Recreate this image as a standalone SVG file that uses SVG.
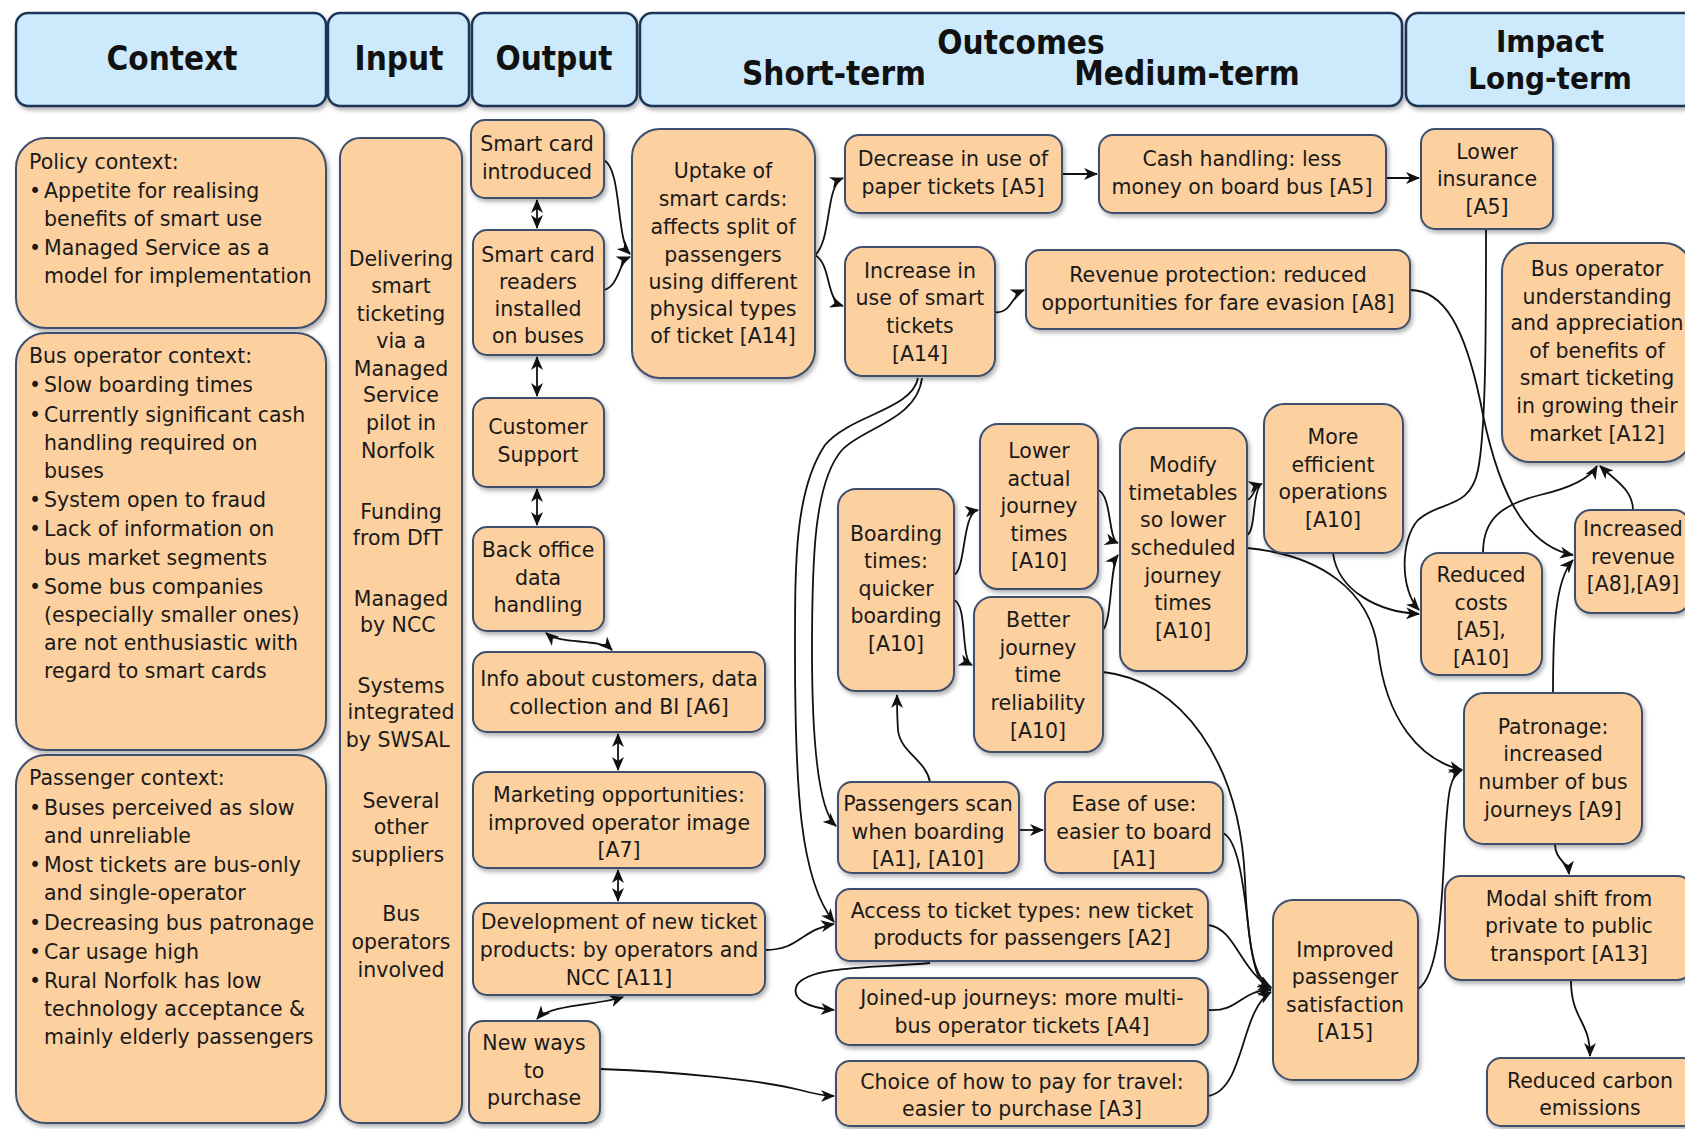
<svg xmlns="http://www.w3.org/2000/svg" width="1685" height="1129" viewBox="0 0 1685 1129">
<style>
.hdr{fill:#cdeafc;stroke:#1d3557;stroke-width:2.5}
.box{fill:#fdd09f;stroke:#3e4f6d;stroke-width:2}
.ht{font-family:"DejaVu Sans Condensed","DejaVu Sans",sans-serif;font-stretch:condensed;font-weight:bold;font-size:33px;fill:#111;text-anchor:middle}
.hs{font-size:31px}
.t{font-family:"DejaVu Sans",Verdana,sans-serif;font-size:20.5px;fill:#1a1a1a;text-anchor:middle}
.l{font-family:"DejaVu Sans",Verdana,sans-serif;font-size:20.5px;fill:#1a1a1a}
.c{fill:none;stroke:#111;stroke-width:1.8}
</style>
<defs>
<filter id="sh" x="-10%" y="-10%" width="130%" height="130%">
<feDropShadow dx="2" dy="3" stdDeviation="2" flood-color="#000" flood-opacity="0.3"/>
</filter>
<marker id="ar" viewBox="0 0 14 12" refX="13" refY="6" markerWidth="14" markerHeight="12" markerUnits="userSpaceOnUse" orient="auto-start-reverse">
<path d="M0,0 L14,6 L0,12 L4,6 z" fill="#111"/>
</marker>
</defs>

<g id="headers" filter="url(#sh)">
<rect class="hdr" x="16" y="13" width="310" height="93" rx="12"/>
<rect class="hdr" x="328" y="13" width="141" height="93" rx="12"/>
<rect class="hdr" x="472" y="13" width="165" height="93" rx="12"/>
<rect class="hdr" x="640" y="13" width="762" height="93" rx="12"/>
<rect class="hdr" x="1406" y="13" width="290" height="93" rx="12"/>
</g>
<g id="header-text">
<text class="ht" x="172" y="70">Context</text>
<text class="ht" x="399" y="70">Input</text>
<text class="ht" x="554" y="70">Output</text>
<text class="ht" x="1021" y="54">Outcomes</text>
<text class="ht" x="834" y="85">Short-term</text>
<text class="ht" x="1187" y="85">Medium-term</text>
<text class="ht hs" x="1550" y="52">Impact</text>
<text class="ht hs" x="1550" y="89">Long-term</text>
</g>

<g id="connectors">
<path class="c" marker-start="url(#ar)" marker-end="url(#ar)" d="M537 200 L537 228"/>
<path class="c" marker-start="url(#ar)" marker-end="url(#ar)" d="M537 357 L537 396"/>
<path class="c" marker-start="url(#ar)" marker-end="url(#ar)" d="M537 489 L537 525"/>
<path class="c" marker-start="url(#ar)" marker-end="url(#ar)" d="M546 633 C560 645 600 638 612 650"/>
<path class="c" marker-start="url(#ar)" marker-end="url(#ar)" d="M618 734 L618 770"/>
<path class="c" marker-start="url(#ar)" marker-end="url(#ar)" d="M618 870 L618 901"/>
<path class="c" marker-start="url(#ar)" marker-end="url(#ar)" d="M623 997 C600 1005 550 1004 537 1019"/>
<path class="c" marker-end="url(#ar)" d="M604 160 C622 170 616 240 630 254"/>
<path class="c" marker-end="url(#ar)" d="M604 290 C620 285 618 262 630 257"/>
<path class="c" marker-end="url(#ar)" d="M815 255 C832 240 825 185 843 178"/>
<path class="c" marker-end="url(#ar)" d="M815 255 C832 265 825 300 843 306"/>
<path class="c" marker-end="url(#ar)" d="M1062 174 L1097 174"/>
<path class="c" marker-end="url(#ar)" d="M1386 178 L1419 178"/>
<path class="c" marker-end="url(#ar)" d="M995 312 C1010 315 1012 295 1024 290"/>
<path class="c" marker-end="url(#ar)" d="M922 378 C917 420 862 428 842 450 C814 482 812 560 812 650 C812 740 818 810 836 826"/>
<path class="c" marker-end="url(#ar)" d="M918 378 C912 410 850 415 825 445 C795 490 795 560 795 650 C795 790 800 880 834 922"/>
<path class="c" marker-end="url(#ar)" d="M765 950 C800 950 800 930 834 924"/>
<path class="c" marker-end="url(#ar)" d="M930 963 C880 968 810 965 797 985 C790 1000 810 1008 834 1010"/>
<path class="c" marker-end="url(#ar)" d="M930 782 C926 760 900 752 898 730 C897 715 897 705 897 695"/>
<path class="c" marker-end="url(#ar)" d="M1019 830 L1043 830"/>
<path class="c" marker-end="url(#ar)" d="M954 575 C966 570 962 512 978 510"/>
<path class="c" marker-end="url(#ar)" d="M954 600 C968 605 960 660 972 665"/>
<path class="c" marker-end="url(#ar)" d="M1098 490 C1112 495 1108 540 1118 543"/>
<path class="c" marker-end="url(#ar)" d="M1103 630 C1112 620 1110 565 1118 555"/>
<path class="c" marker-end="url(#ar)" d="M1247 500 C1254 498 1254 486 1262 484"/>
<path class="c" d="M1247 535 C1256 530 1252 495 1260 486"/>
<path class="c" marker-end="url(#ar)" d="M1247 548 C1320 555 1370 590 1378 650 C1386 720 1420 760 1462 770"/>
<path class="c" marker-end="url(#ar)" d="M1333 553 C1338 592 1380 612 1419 614"/>
<path class="c" marker-end="url(#ar)" d="M1486 229 C1486 330 1486 430 1478 470 C1470 510 1440 500 1418 520 C1400 540 1400 590 1419 610"/>
<path class="c" marker-end="url(#ar)" d="M1410 290 C1445 290 1465 330 1480 400 C1495 480 1520 545 1573 555"/>
<path class="c" marker-end="url(#ar)" d="M1483 553 C1483 520 1500 505 1540 495 C1570 488 1590 478 1597 466"/>
<path class="c" marker-end="url(#ar)" d="M1633 510 C1633 490 1615 480 1600 466"/>
<path class="c" marker-end="url(#ar)" d="M1553 693 C1553 630 1555 580 1573 560"/>
<path class="c" marker-end="url(#ar)" d="M1418 989 C1440 975 1442 900 1445 840 C1448 790 1450 775 1462 770"/>
<path class="c" marker-end="url(#ar)" d="M1555 844 C1555 860 1568 862 1569 874"/>
<path class="c" marker-end="url(#ar)" d="M1571 980 C1571 1020 1590 1020 1590 1056"/>
<path class="c" marker-end="url(#ar)" d="M1103 672 C1180 680 1240 760 1245 880 C1248 950 1255 980 1271 987"/>
<path class="c" marker-end="url(#ar)" d="M1223 833 C1240 840 1245 900 1250 940 C1255 975 1260 985 1271 988"/>
<path class="c" marker-end="url(#ar)" d="M1208 925 C1235 928 1240 970 1271 988"/>
<path class="c" marker-end="url(#ar)" d="M1208 1010 C1240 1012 1240 990 1271 990"/>
<path class="c" marker-end="url(#ar)" d="M1208 1096 C1245 1090 1240 1010 1271 992"/>
<path class="c" marker-end="url(#ar)" d="M600 1069 C680 1072 760 1080 800 1090 C815 1094 825 1096 834 1096"/>
</g>

<g id="policy"><rect class="box" filter="url(#sh)" x="16" y="138" width="310" height="190" rx="30"/>
<text class="l"><tspan x="29" y="169">Policy context:</tspan>
<tspan x="29" y="198">•</tspan><tspan x="44" y="198">Appetite for realising</tspan>
<tspan x="44" y="226">benefits of smart use</tspan>
<tspan x="29" y="255">•</tspan><tspan x="44" y="255">Managed Service as a</tspan>
<tspan x="44" y="283">model for implementation</tspan></text></g>

<g id="busop"><rect class="box" filter="url(#sh)" x="16" y="333" width="310" height="417" rx="30"/>
<text class="l"><tspan x="29" y="363">Bus operator context:</tspan>
<tspan x="29" y="392">•</tspan><tspan x="44" y="392">Slow boarding times</tspan>
<tspan x="29" y="422">•</tspan><tspan x="44" y="422">Currently significant cash</tspan>
<tspan x="44" y="450">handling required on</tspan>
<tspan x="44" y="478">buses</tspan>
<tspan x="29" y="507">•</tspan><tspan x="44" y="507">System open to fraud</tspan>
<tspan x="29" y="536">•</tspan><tspan x="44" y="536">Lack of information on</tspan>
<tspan x="44" y="565">bus market segments</tspan>
<tspan x="29" y="594">•</tspan><tspan x="44" y="594">Some bus companies</tspan>
<tspan x="44" y="622">(especially smaller ones)</tspan>
<tspan x="44" y="650">are not enthusiastic with</tspan>
<tspan x="44" y="678">regard to smart cards</tspan></text></g>

<g id="passenger"><rect class="box" filter="url(#sh)" x="16" y="755" width="310" height="368" rx="30"/>
<text class="l"><tspan x="29" y="785">Passenger context:</tspan>
<tspan x="29" y="815">•</tspan><tspan x="44" y="815">Buses perceived as slow</tspan>
<tspan x="44" y="843">and unreliable</tspan>
<tspan x="29" y="872">•</tspan><tspan x="44" y="872">Most tickets are bus-only</tspan>
<tspan x="44" y="900">and single-operator</tspan>
<tspan x="29" y="930">•</tspan><tspan x="44" y="930">Decreasing bus patronage</tspan>
<tspan x="29" y="959">•</tspan><tspan x="44" y="959">Car usage high</tspan>
<tspan x="29" y="988">•</tspan><tspan x="44" y="988">Rural Norfolk has low</tspan>
<tspan x="44" y="1016">technology acceptance &amp;</tspan>
<tspan x="44" y="1044">mainly elderly passengers</tspan></text></g>

<g id="input"><rect class="box" filter="url(#sh)" x="340" y="138" width="122" height="985" rx="20"/>
<text class="t"><tspan x="401" y="266">Delivering</tspan><tspan x="401" y="293">smart</tspan><tspan x="401" y="321">ticketing</tspan><tspan x="401" y="348">via a</tspan><tspan x="401" y="376">Managed</tspan><tspan x="401" y="402">Service</tspan><tspan x="401" y="430">pilot in</tspan><tspan x="401" y="458">Norfolk</tspan>
<tspan x="401" y="519">Funding</tspan><tspan x="401" y="545">from DfT</tspan>
<tspan x="401" y="606">Managed</tspan><tspan x="401" y="632">by NCC</tspan>
<tspan x="401" y="693">Systems</tspan><tspan x="401" y="719">integrated</tspan><tspan x="401" y="747">by SWSAL</tspan>
<tspan x="401" y="808">Several</tspan><tspan x="401" y="834">other</tspan><tspan x="401" y="862">suppliers</tspan>
<tspan x="401" y="921">Bus</tspan><tspan x="401" y="949">operators</tspan><tspan x="401" y="977">involved</tspan></text></g>

<g id="sc-intro"><rect class="box" filter="url(#sh)" x="471" y="120" width="133" height="78" rx="14"/>
<text class="t"><tspan x="537" y="151">Smart card</tspan><tspan x="537" y="179">introduced</tspan></text></g>
<g id="sc-readers"><rect class="box" filter="url(#sh)" x="473" y="230" width="131" height="125" rx="14"/>
<text class="t"><tspan x="538" y="262">Smart card</tspan><tspan x="538" y="289">readers</tspan><tspan x="538" y="316">installed</tspan><tspan x="538" y="343">on buses</tspan></text></g>
<g id="customer-support"><rect class="box" filter="url(#sh)" x="473" y="398" width="131" height="89" rx="14"/>
<text class="t"><tspan x="538" y="434">Customer</tspan><tspan x="538" y="462">Support</tspan></text></g>
<g id="back-office"><rect class="box" filter="url(#sh)" x="473" y="527" width="131" height="104" rx="14"/>
<text class="t"><tspan x="538" y="557">Back office</tspan><tspan x="538" y="585">data</tspan><tspan x="538" y="612">handling</tspan></text></g>
<g id="info"><rect class="box" filter="url(#sh)" x="473" y="652" width="292" height="80" rx="14"/>
<text class="t"><tspan x="619" y="686">Info about customers, data</tspan><tspan x="619" y="714">collection and BI [A6]</tspan></text></g>
<g id="marketing"><rect class="box" filter="url(#sh)" x="473" y="772" width="292" height="96" rx="14"/>
<text class="t"><tspan x="619" y="802">Marketing opportunities:</tspan><tspan x="619" y="830">improved operator image</tspan><tspan x="619" y="857">[A7]</tspan></text></g>
<g id="development"><rect class="box" filter="url(#sh)" x="473" y="903" width="292" height="92" rx="14"/>
<text class="t"><tspan x="619" y="929">Development of new ticket</tspan><tspan x="619" y="957">products: by operators and</tspan><tspan x="619" y="985">NCC [A11]</tspan></text></g>
<g id="new-ways"><rect class="box" filter="url(#sh)" x="469" y="1021" width="131" height="102" rx="14"/>
<text class="t"><tspan x="534" y="1050">New ways</tspan><tspan x="534" y="1078">to</tspan><tspan x="534" y="1105">purchase</tspan></text></g>

<g id="uptake"><rect class="box" filter="url(#sh)" x="632" y="129" width="183" height="249" rx="28"/>
<text class="t"><tspan x="723" y="178">Uptake of</tspan><tspan x="723" y="206">smart cards:</tspan><tspan x="723" y="234">affects split of</tspan><tspan x="723" y="262">passengers</tspan><tspan x="723" y="289">using different</tspan><tspan x="723" y="316">physical types</tspan><tspan x="723" y="343">of ticket [A14]</tspan></text></g>
<g id="decrease"><rect class="box" filter="url(#sh)" x="845" y="135" width="217" height="78" rx="14"/>
<text class="t"><tspan x="953" y="166">Decrease in use of</tspan><tspan x="953" y="194">paper tickets [A5]</tspan></text></g>
<g id="increase"><rect class="box" filter="url(#sh)" x="845" y="247" width="150" height="129" rx="18"/>
<text class="t"><tspan x="920" y="278">Increase in</tspan><tspan x="920" y="305">use of smart</tspan><tspan x="920" y="333">tickets</tspan><tspan x="920" y="361">[A14]</tspan></text></g>
<g id="cash"><rect class="box" filter="url(#sh)" x="1099" y="135" width="287" height="78" rx="14"/>
<text class="t"><tspan x="1242" y="166">Cash handling: less</tspan><tspan x="1242" y="194">money on board bus [A5]</tspan></text></g>
<g id="revenue-protection"><rect class="box" filter="url(#sh)" x="1026" y="250" width="384" height="79" rx="14"/>
<text class="t"><tspan x="1218" y="282">Revenue protection: reduced</tspan><tspan x="1218" y="310">opportunities for fare evasion [A8]</tspan></text></g>
<g id="lower-insurance"><rect class="box" filter="url(#sh)" x="1421" y="129" width="132" height="100" rx="14"/>
<text class="t"><tspan x="1487" y="159">Lower</tspan><tspan x="1487" y="186">insurance</tspan><tspan x="1487" y="214">[A5]</tspan></text></g>
<g id="operator-understanding"><rect class="box" filter="url(#sh)" x="1502" y="243" width="190" height="219" rx="28"/>
<text class="t"><tspan x="1597" y="276">Bus operator</tspan><tspan x="1597" y="304">understanding</tspan><tspan x="1597" y="330">and appreciation</tspan><tspan x="1597" y="358">of benefits of</tspan><tspan x="1597" y="385">smart ticketing</tspan><tspan x="1597" y="413">in growing their</tspan><tspan x="1597" y="441">market [A12]</tspan></text></g>
<g id="boarding"><rect class="box" filter="url(#sh)" x="838" y="489" width="116" height="202" rx="18"/>
<text class="t"><tspan x="896" y="541">Boarding</tspan><tspan x="896" y="568">times:</tspan><tspan x="896" y="596">quicker</tspan><tspan x="896" y="623">boarding</tspan><tspan x="896" y="651">[A10]</tspan></text></g>
<g id="lower-actual"><rect class="box" filter="url(#sh)" x="980" y="424" width="118" height="165" rx="18"/>
<text class="t"><tspan x="1039" y="458">Lower</tspan><tspan x="1039" y="486">actual</tspan><tspan x="1039" y="513">journey</tspan><tspan x="1039" y="541">times</tspan><tspan x="1039" y="568">[A10]</tspan></text></g>
<g id="better-reliability"><rect class="box" filter="url(#sh)" x="974" y="597" width="129" height="155" rx="18"/>
<text class="t"><tspan x="1038" y="627">Better</tspan><tspan x="1038" y="655">journey</tspan><tspan x="1038" y="682">time</tspan><tspan x="1038" y="710">reliability</tspan><tspan x="1038" y="738">[A10]</tspan></text></g>
<g id="modify"><rect class="box" filter="url(#sh)" x="1120" y="428" width="127" height="243" rx="18"/>
<text class="t"><tspan x="1183" y="472">Modify</tspan><tspan x="1183" y="500">timetables</tspan><tspan x="1183" y="527">so lower</tspan><tspan x="1183" y="555">scheduled</tspan><tspan x="1183" y="583">journey</tspan><tspan x="1183" y="610">times</tspan><tspan x="1183" y="638">[A10]</tspan></text></g>
<g id="more-efficient"><rect class="box" filter="url(#sh)" x="1264" y="404" width="139" height="149" rx="20"/>
<text class="t"><tspan x="1333" y="444">More</tspan><tspan x="1333" y="472">efficient</tspan><tspan x="1333" y="499">operations</tspan><tspan x="1333" y="527">[A10]</tspan></text></g>
<g id="reduced-costs"><rect class="box" filter="url(#sh)" x="1421" y="553" width="121" height="122" rx="18"/>
<text class="t"><tspan x="1481" y="582">Reduced</tspan><tspan x="1481" y="610">costs</tspan><tspan x="1481" y="637">[A5],</tspan><tspan x="1481" y="665">[A10]</tspan></text></g>
<g id="increased-revenue"><rect class="box" filter="url(#sh)" x="1575" y="510" width="115" height="103" rx="16"/>
<text class="t"><tspan x="1633" y="536">Increased</tspan><tspan x="1633" y="564">revenue</tspan><tspan x="1633" y="591">[A8],[A9]</tspan></text></g>
<g id="patronage"><rect class="box" filter="url(#sh)" x="1464" y="693" width="178" height="151" rx="20"/>
<text class="t"><tspan x="1553" y="734">Patronage:</tspan><tspan x="1553" y="761">increased</tspan><tspan x="1553" y="789">number of bus</tspan><tspan x="1553" y="817">journeys [A9]</tspan></text></g>
<g id="modal-shift"><rect class="box" filter="url(#sh)" x="1445" y="876" width="248" height="104" rx="16"/>
<text class="t"><tspan x="1569" y="906">Modal shift from</tspan><tspan x="1569" y="933">private to public</tspan><tspan x="1569" y="961">transport [A13]</tspan></text></g>
<g id="carbon"><rect class="box" filter="url(#sh)" x="1487" y="1058" width="210" height="68" rx="14"/>
<text class="t"><tspan x="1590" y="1088">Reduced carbon</tspan><tspan x="1590" y="1115">emissions</tspan></text></g>
<g id="satisfaction"><rect class="box" filter="url(#sh)" x="1273" y="900" width="145" height="180" rx="20"/>
<text class="t"><tspan x="1345" y="957">Improved</tspan><tspan x="1345" y="984">passenger</tspan><tspan x="1345" y="1012">satisfaction</tspan><tspan x="1345" y="1039">[A15]</tspan></text></g>
<g id="passengers-scan"><rect class="box" filter="url(#sh)" x="838" y="782" width="181" height="91" rx="14"/>
<text class="t"><tspan x="928" y="811">Passengers scan</tspan><tspan x="928" y="839">when boarding</tspan><tspan x="928" y="866">[A1], [A10]</tspan></text></g>
<g id="ease-of-use"><rect class="box" filter="url(#sh)" x="1045" y="782" width="178" height="91" rx="14"/>
<text class="t"><tspan x="1134" y="811">Ease of use:</tspan><tspan x="1134" y="839">easier to board</tspan><tspan x="1134" y="866">[A1]</tspan></text></g>
<g id="access"><rect class="box" filter="url(#sh)" x="836" y="889" width="372" height="72" rx="14"/>
<text class="t"><tspan x="1022" y="918">Access to ticket types: new ticket</tspan><tspan x="1022" y="945">products for passengers [A2]</tspan></text></g>
<g id="joined-up"><rect class="box" filter="url(#sh)" x="836" y="978" width="372" height="67" rx="14"/>
<text class="t"><tspan x="1022" y="1005">Joined-up journeys: more multi-</tspan><tspan x="1022" y="1033">bus operator tickets [A4]</tspan></text></g>
<g id="choice"><rect class="box" filter="url(#sh)" x="836" y="1061" width="372" height="65" rx="14"/>
<text class="t"><tspan x="1022" y="1089">Choice of how to pay for travel:</tspan><tspan x="1022" y="1116">easier to purchase [A3]</tspan></text></g>
</svg>
